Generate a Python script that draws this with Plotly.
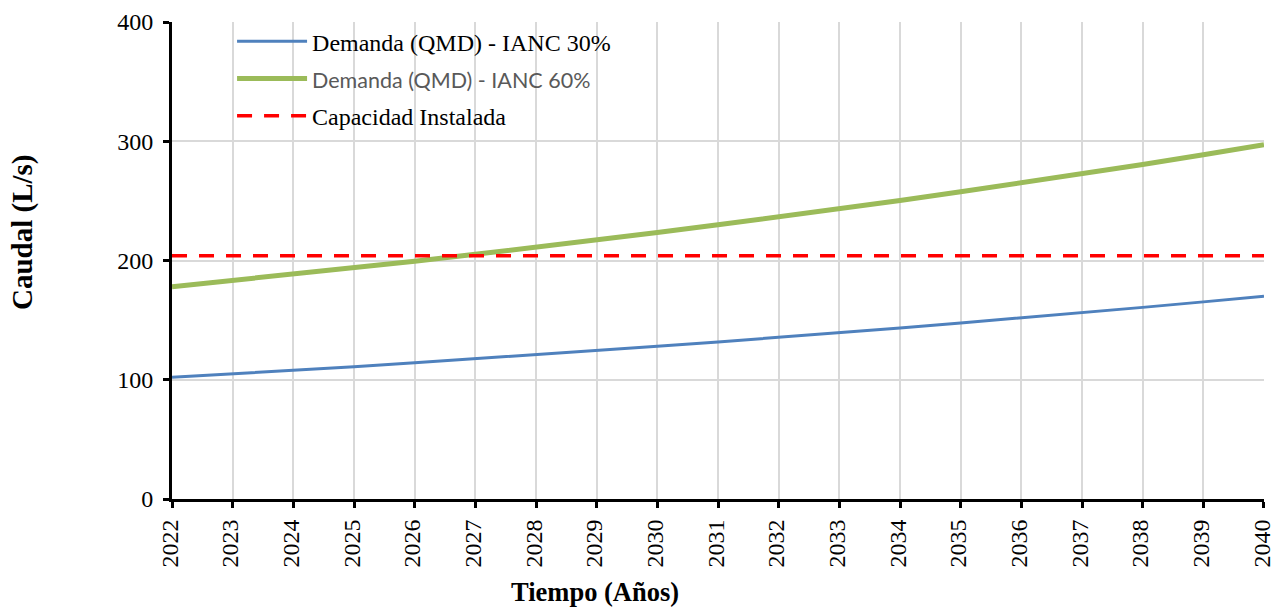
import plotly.graph_objects as go

years = list(range(2022, 2041))
demanda_30 = [102.0, 104.9, 108.0, 111.0, 114.3, 117.6, 121.0, 124.4, 128.0, 131.7,
              135.5, 139.4, 143.4, 147.6, 151.8, 156.2, 160.7, 165.3, 170.0]
demanda_60 = [178.0, 183.1, 188.4, 193.8, 199.4, 205.2, 211.1, 217.2, 223.4, 229.9,
              236.5, 243.3, 250.3, 257.6, 265.0, 272.6, 280.5, 288.6, 297.0]
capacidad = [204.0] * len(years)
y_ticks = [0, 100, 200, 300, 400]

serif = "Liberation Serif, Times New Roman, serif"

fig = go.Figure()
fig.add_trace(go.Scatter(x=years, y=demanda_30, mode="lines",
                         name="Demanda (QMD) - IANC 30%", legendgroup="a",
                         line=dict(color="#4f81bd", width=3)))
fig.add_trace(go.Scatter(x=years, y=demanda_60, mode="lines",
                         name='<span style="font-family:Lato;font-size:21.5px;color:#595959">Demanda (QMD) - IANC 60%</span>',
                         legendgroup="b",
                         line=dict(color="#9bbb59", width=5)))
fig.add_trace(go.Scatter(x=years, y=capacidad, mode="lines",
                         name="Capacidad Instalada", legendgroup="c",
                         line=dict(color="#ff0000", width=3.5, dash="15px,12px")))

fig.update_layout(
    width=1274, height=609,
    margin=dict(l=172, r=10, t=22, b=110, autoexpand=False),
    paper_bgcolor="white", plot_bgcolor="white",
    font=dict(family=serif, size=24, color="black"),
    showlegend=True,
    legend=dict(x=0.055, y=1.006, xanchor="left", yanchor="top",
                bgcolor="rgba(0,0,0,0)", font=dict(size=24, family=serif),
                traceorder="grouped", tracegroupgap=3, itemwidth=70),
    xaxis=dict(range=[2021.9999, 2040.0001], tickmode="array", tickvals=years,
               ticktext=[str(y) for y in years], tickangle=-90,
               showgrid=True, gridcolor="#d9d9d9", gridwidth=2,
               showline=True, linecolor="black", linewidth=3,
               ticks="outside", ticklen=6, tickwidth=3, tickcolor="black",
               zeroline=False, tickfont=dict(size=24), automargin=False,
               ticklabelstandoff=2, ticklabelshift=-2,
               ticklabeloverflow="allow"),
    yaxis=dict(range=[0, 400], tickmode="array", tickvals=y_ticks,
               showgrid=True, gridcolor="#d9d9d9", gridwidth=2,
               showline=True, linecolor="black", linewidth=3,
               ticks="outside", ticklen=6, tickwidth=3, tickcolor="black",
               zeroline=False, tickfont=dict(size=24), automargin=False,
               ticklabelstandoff=5, ticklabeloverflow="allow"),
    annotations=[
        dict(text="<b>Caudal (L/s)</b>", xref="paper", yref="paper",
             x=-0.1374, y=0.5597, xanchor="center", yanchor="middle",
             showarrow=False, textangle=-90,
             font=dict(size=29, family=serif)),
        dict(text="<b>Tiempo (Años)</b>", xref="paper", yref="paper",
             x=0.387, y=-0.195, xanchor="center", yanchor="middle",
             showarrow=False,
             font=dict(size=26.5, family=serif)),
    ],
)

fig.write_html(
    "out.html",
    config={"displayModeBar": False},
    post_script="document.body.style.margin='0';"
                "document.documentElement.style.overflow='hidden';",
)
